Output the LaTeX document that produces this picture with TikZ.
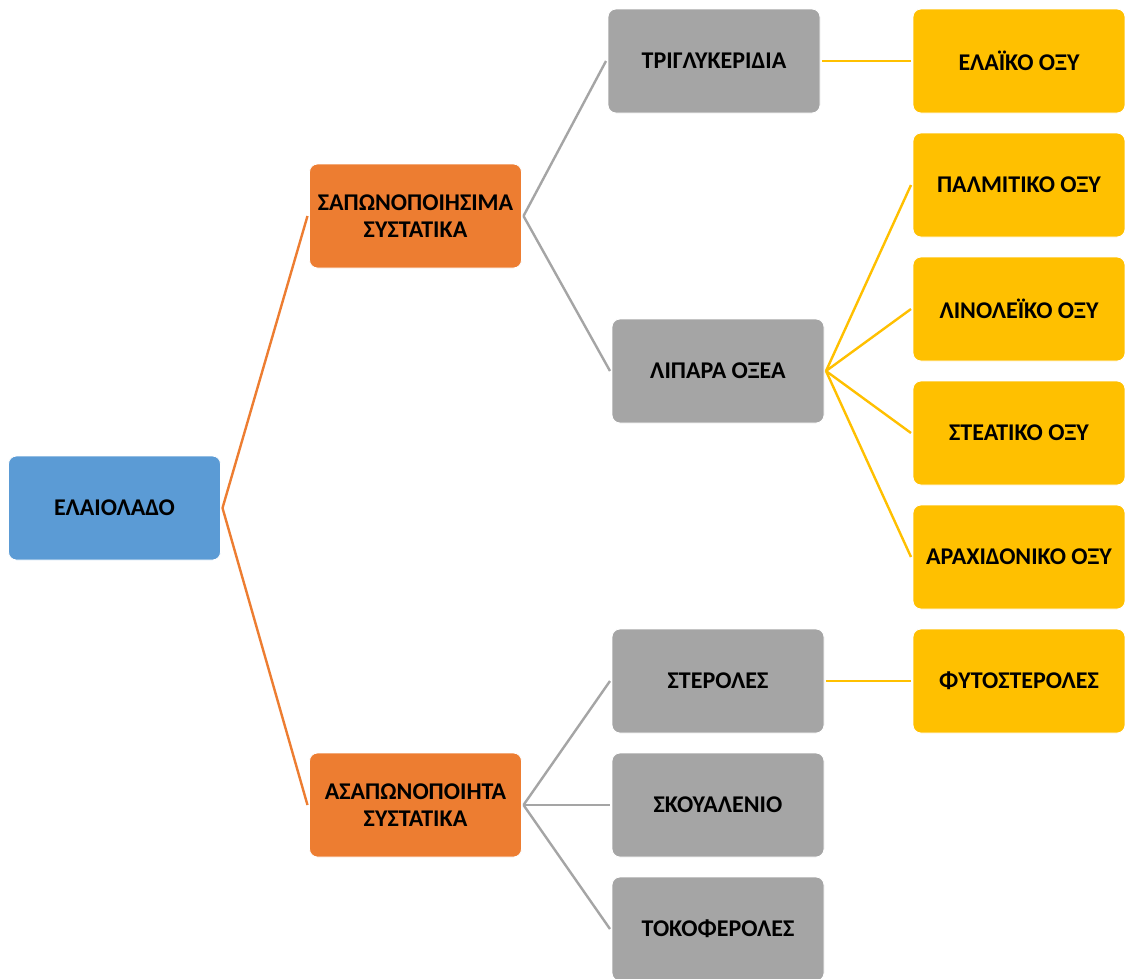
\documentclass[tikz,border=0pt]{standalone}
\usepackage{fontspec}
\setmainfont{Carlito}
\definecolor{cblue}{HTML}{5B9BD5}
\definecolor{corange}{HTML}{ED7D31}
\definecolor{cgray}{HTML}{A5A5A5}
\definecolor{cyellow}{HTML}{FFC000}
\begin{document}
\begin{tikzpicture}[x=1pt,y=-1pt,
  box/.style={rectangle,rounded corners=8pt,minimum width=212pt,minimum height=104pt,
    draw=white,line width=0.8pt,align=center,inner sep=1pt,outer sep=2pt,
    font=\fontsize{24}{26.5}\selectfont\bfseries,text=black},
  rootbox/.style={box,fill=cblue},
  l1box/.style={box,fill=corange},
  l2box/.style={box,fill=cgray},
  l3box/.style={box,fill=cyellow},
  l1line/.style={draw=corange,line width=2.4pt},
  l2line/.style={draw=cgray,line width=2.4pt},
  l3line/.style={draw=cyellow,line width=2.4pt}]
\useasboundingbox (0,0) rectangle (1125,978);
\fill[white] (0,0) rectangle (1125,978);
\node[rootbox] (root) at (114.5,508) {ΕΛΑΙΟΛΑΔΟ};
\node[l1box] (sap) at (415.5,216) {ΣΑΠΩΝΟΠΟΙΗΣΙΜΑ\\ΣΥΣΤΑΤΙΚΑ};
\node[l1box] (asap) at (415.5,805) {ΑΣΑΠΩΝΟΠΟΙΗΤΑ\\ΣΥΣΤΑΤΙΚΑ};
\node[l2box] (trig) at (714,61) {ΤΡΙΓΛΥΚΕΡΙΔΙΑ};
\node[l2box] (lip) at (718,371) {ΛΙΠΑΡΑ ΟΞΕΑ};
\node[l2box] (ster) at (718,681) {ΣΤΕΡΟΛΕΣ};
\node[l2box] (skou) at (718,805) {ΣΚΟΥΑΛΕΝΙΟ};
\node[l2box] (toko) at (718,929) {ΤΟΚΟΦΕΡΟΛΕΣ};
\node[l3box] (elai) at (1019,61) {ΕΛΑΪΚΟ ΟΞΥ};
\node[l3box] (palm) at (1019,185) {ΠΑΛΜΙΤΙΚΟ ΟΞΥ};
\node[l3box] (lino) at (1019,309) {ΛΙΝΟΛΕΪΚΟ ΟΞΥ};
\node[l3box] (stea) at (1019,433) {ΣΤΕΑΤΙΚΟ ΟΞΥ};
\node[l3box] (arax) at (1019,557) {ΑΡΑΧΙΔΟΝΙΚΟ ΟΞΥ};
\node[l3box] (fyto) at (1019,681) {ΦΥΤΟΣΤΕΡΟΛΕΣ};
\draw[l1line] (root.east) -- (sap.west);
\draw[l1line] (root.east) -- (asap.west);
\draw[l2line] (sap.east) -- (trig.west);
\draw[l2line] (sap.east) -- (lip.west);
\draw[l2line] (asap.east) -- (ster.west);
\draw[l2line] (asap.east) -- (skou.west);
\draw[l2line] (asap.east) -- (toko.west);
\draw[l3line] (trig.east) -- (elai.west);
\draw[l3line] (lip.east) -- (palm.west);
\draw[l3line] (lip.east) -- (lino.west);
\draw[l3line] (lip.east) -- (stea.west);
\draw[l3line] (lip.east) -- (arax.west);
\draw[l3line] (ster.east) -- (fyto.west);
\end{tikzpicture}
\end{document}
